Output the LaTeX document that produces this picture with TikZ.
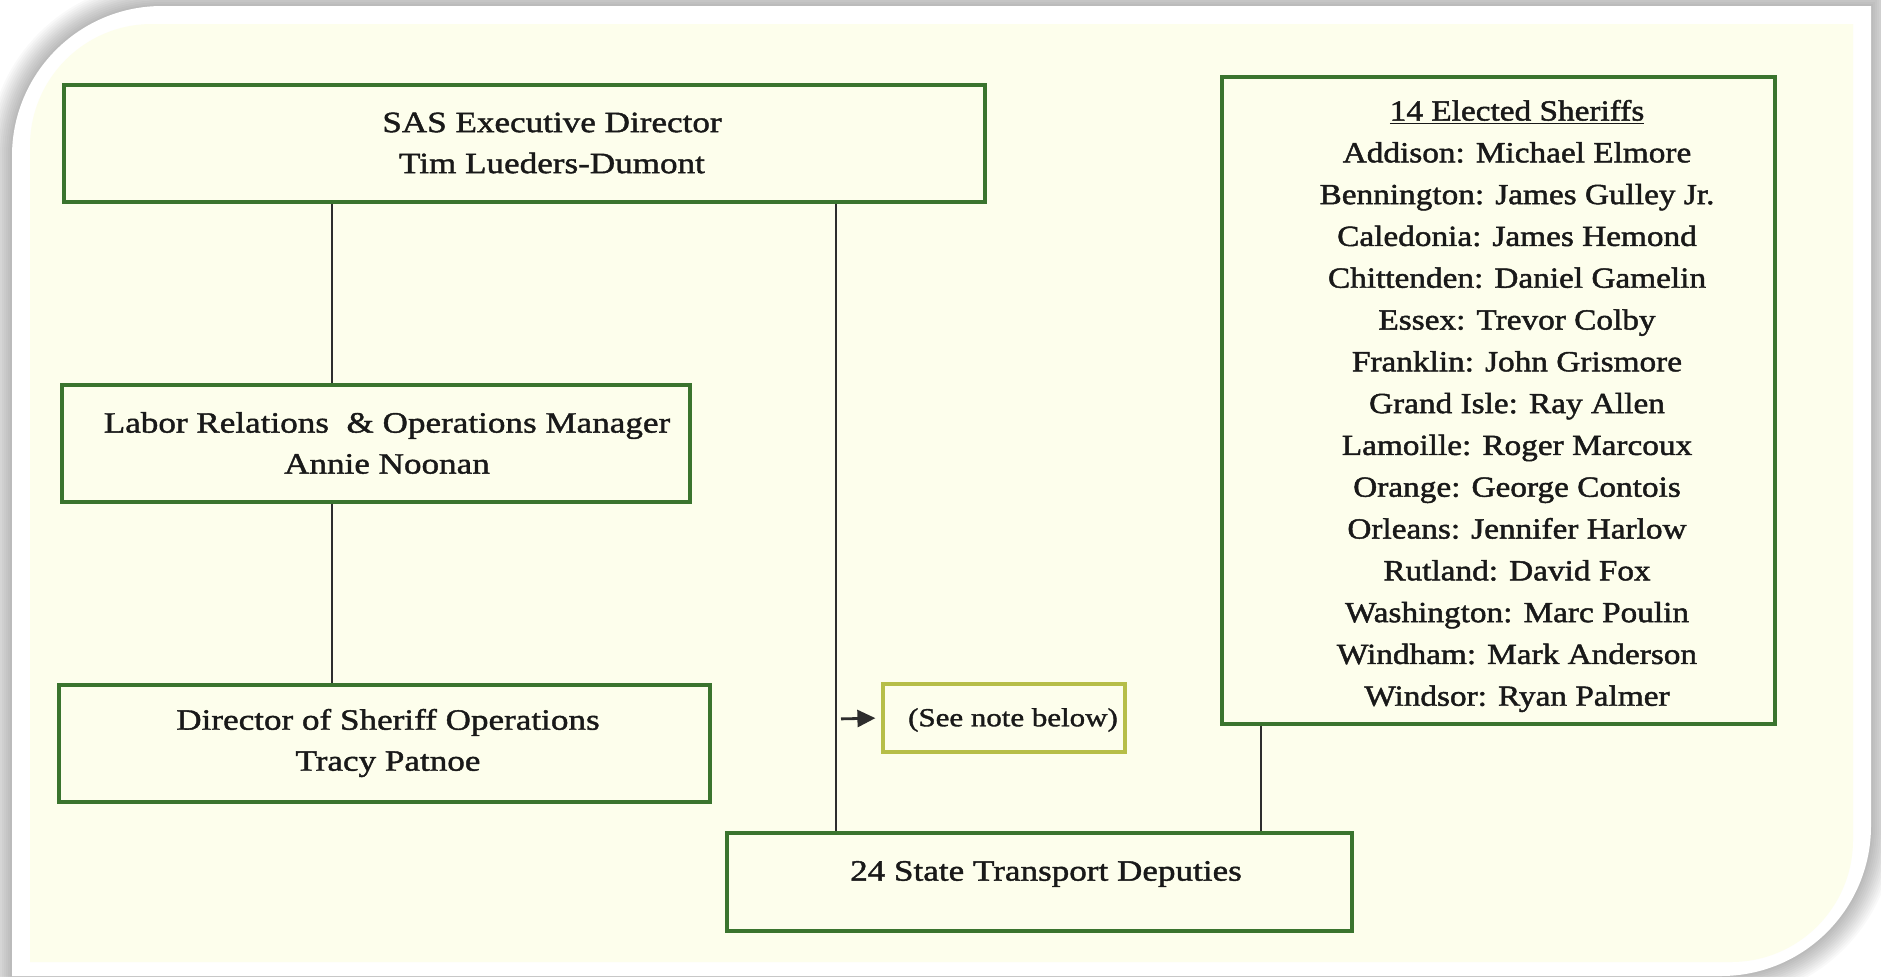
\documentclass[tikz,border=0pt]{standalone}
\usepackage{fontspec}
\setmainfont{Liberation Serif}[FakeStretch=1.19,FakeBold=1.4]
\newfontfamily\sheriffsfont{Liberation Serif}[FakeStretch=1.14,FakeBold=1.6]
\usetikzlibrary{arrows.meta}
\definecolor{cream}{RGB}{253,254,236}
\definecolor{boxgreen}{RGB}{58,116,46}
\definecolor{noteolive}{RGB}{182,190,72}
\definecolor{linegrey}{RGB}{45,45,45}
\definecolor{inkgrey}{RGB}{25,25,25}
\tikzset{
  orgbox/.style={draw=boxgreen, line width=1.7pt, rectangle, inner sep=0pt},
  notebox/.style={draw=noteolive, line width=1.6pt, rectangle, inner sep=0pt},
  orgtext/.style={inner sep=0pt, align=center, text=inkgrey, font=\fontsize{14.75}{20.5}\selectfont},
  link/.style={draw=linegrey, line width=1pt},
}
\begin{document}
\begin{tikzpicture}[x=0.5pt,y=0.5pt,yscale=-1,xscale=1]
    \useasboundingbox (0,0) rectangle (1881,976);
    \clip (0,0) rectangle (1881,976);
    \fill [white] (0,0) rectangle (1881,976);

    %Shape: card shadow
    \foreach \w in {2,4,...,24} {
      \draw [black, draw opacity=0.022, line width=\w pt] (12,156) .. controls (12,73.2) and (79.2,6) .. (162,6) -- (1871,6) -- (1871,826) .. controls (1871,908.8) and (1803.8,976) .. (1721,976) -- (12,976) -- cycle ;
    }
    %Shape: white card
    \fill [white] (12,156) .. controls (12,73.2) and (79.2,6) .. (162,6) -- (1871,6) -- (1871,826) .. controls (1871,908.8) and (1803.8,976) .. (1721,976) -- (12,976) -- cycle ;
    %Shape: cream panel
    \fill [cream] (30,146) .. controls (30,78.6) and (84.6,24) .. (152,24) -- (1853,24) -- (1853,840) .. controls (1853,907.4) and (1798.4,962) .. (1731,962) -- (30,962) -- cycle ;

    %Shape: boxes
    \node [orgbox, minimum width=460.5pt, minimum height=58.5pt] (sas) at (524.5,143.5) {};
    \node [orgbox, minimum width=314pt, minimum height=58.5pt] (labor) at (376,443.5) {};
    \node [orgbox, minimum width=325.5pt, minimum height=58.5pt] (dso) at (384.5,743.5) {};
    \node [notebox, minimum width=121pt, minimum height=34pt] (note) at (1004,718) {};
    \node [orgbox, minimum width=312.5pt, minimum height=49pt] (deputies) at (1039.5,882) {};
    \node [orgbox, minimum width=276.5pt, minimum height=323.5pt] (sheriffs) at (1498.5,400.5) {};

    %Straight Lines
    \coordinate (tap) at (836,719);
    \draw [link] ([xshift=-22pt]labor.north) -- ([xshift=-22pt]labor.north |- sas.south) ;
    \draw [link] ([xshift=-22pt]labor.south) -- ([xshift=-22pt]labor.south |- dso.north) ;
    \draw [link] (sas.south -| tap) -- (deputies.north -| tap) ;
    \draw [link] ([xshift=-119pt]sheriffs.south) -- ([xshift=-119pt]sheriffs.south |- deputies.north) ;
    \draw [link, line width=1.4pt, -{Triangle[length=9pt,width=8.5pt]}, shorten <=2.5pt, shorten >=3pt] (tap) -- (note.west) ;

    % Text Node
    \node [orgtext] (sasText) at (552,143) {SAS Executive Director\\Tim Lueders-Dumont};
    % Text Node
    \node [orgtext] (laborText) at (387,443) {Labor Relations\ \ \& Operations Manager\\Annie Noonan};
    % Text Node
    \node [orgtext] (dsoText) at (388,743) {Director of Sheriff Operations\\Tracy Patnoe};
    % Text Node
    \node [orgtext, font=\fontsize{13}{16}\selectfont] (noteText) at (1013,720) {(See note below)};
    % Text Node
    \node [orgtext] (deputiesText) at (1046,874) {24 State Transport Deputies};
    % Text Node
    \node [orgtext, font=\sheriffsfont\fontsize{14.6}{20.9}\selectfont] (sheriffsText) at (1517,406) {\underline{14 Elected Sheriffs}\\Addison: Michael Elmore\\Bennington: James Gulley Jr.\\Caledonia: James Hemond\\Chittenden: Daniel Gamelin\\Essex: Trevor Colby\\Franklin: John Grismore\\Grand Isle: Ray Allen\\Lamoille: Roger Marcoux\\Orange: George Contois\\Orleans: Jennifer Harlow\\Rutland: David Fox\\Washington: Marc Poulin\\Windham: Mark Anderson\\Windsor: Ryan Palmer};

\end{tikzpicture}
\end{document}
